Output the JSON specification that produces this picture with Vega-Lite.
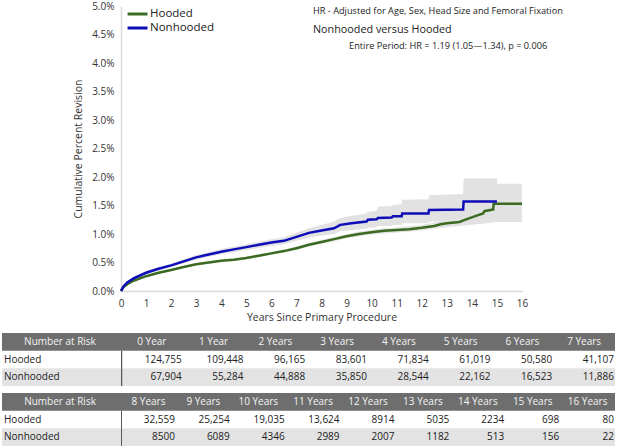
{
  "$schema": "https://vega.github.io/schema/vega-lite/v6.json",
  "padding": {"left": 2, "top": 1, "right": 3, "bottom": 0},
  "config": {"view": {"stroke": null}, "font": "Open Sans", "axis": {"labelOverlap": false, "labelFlush": false}},
  "datasets": {
    "curves": [
      {"g":"Hooded","t":0,"v":0,"lo":0,"hi":0},
      {"g":"Hooded","t":0.1,"v":0.07,"lo":0.06,"hi":0.08},
      {"g":"Hooded","t":0.25,"v":0.12,"lo":0.11,"hi":0.135},
      {"g":"Hooded","t":0.5,"v":0.18,"lo":0.165,"hi":0.195},
      {"g":"Hooded","t":1,"v":0.26,"lo":0.245,"hi":0.275},
      {"g":"Hooded","t":1.5,"v":0.32,"lo":0.3,"hi":0.34},
      {"g":"Hooded","t":2,"v":0.37,"lo":0.35,"hi":0.39},
      {"g":"Hooded","t":2.5,"v":0.42,"lo":0.4,"hi":0.44},
      {"g":"Hooded","t":3,"v":0.47,"lo":0.45,"hi":0.49},
      {"g":"Hooded","t":3.5,"v":0.5,"lo":0.48,"hi":0.52},
      {"g":"Hooded","t":4,"v":0.53,"lo":0.51,"hi":0.555},
      {"g":"Hooded","t":4.5,"v":0.55,"lo":0.525,"hi":0.575},
      {"g":"Hooded","t":5,"v":0.58,"lo":0.555,"hi":0.605},
      {"g":"Hooded","t":5.5,"v":0.62,"lo":0.595,"hi":0.645},
      {"g":"Hooded","t":6,"v":0.66,"lo":0.635,"hi":0.69},
      {"g":"Hooded","t":6.5,"v":0.7,"lo":0.67,"hi":0.73},
      {"g":"Hooded","t":7,"v":0.75,"lo":0.72,"hi":0.78},
      {"g":"Hooded","t":7.5,"v":0.81,"lo":0.78,"hi":0.84},
      {"g":"Hooded","t":8,"v":0.86,"lo":0.83,"hi":0.895},
      {"g":"Hooded","t":8.5,"v":0.91,"lo":0.875,"hi":0.945},
      {"g":"Hooded","t":9,"v":0.96,"lo":0.925,"hi":0.995},
      {"g":"Hooded","t":9.5,"v":1.0,"lo":0.96,"hi":1.04},
      {"g":"Hooded","t":10,"v":1.03,"lo":0.99,"hi":1.07},
      {"g":"Hooded","t":10.5,"v":1.055,"lo":1.01,"hi":1.1},
      {"g":"Hooded","t":11,"v":1.07,"lo":1.025,"hi":1.115},
      {"g":"Hooded","t":11.5,"v":1.085,"lo":1.04,"hi":1.135},
      {"g":"Hooded","t":12,"v":1.11,"lo":1.06,"hi":1.16},
      {"g":"Hooded","t":12.5,"v":1.14,"lo":1.09,"hi":1.2},
      {"g":"Hooded","t":12.75,"v":1.17,"lo":1.11,"hi":1.23},
      {"g":"Hooded","t":13,"v":1.19,"lo":1.12,"hi":1.26},
      {"g":"Hooded","t":13.5,"v":1.21,"lo":1.14,"hi":1.3},
      {"g":"Hooded","t":13.8,"v":1.26,"lo":1.155,"hi":1.38},
      {"g":"Hooded","t":14.25,"v":1.33,"lo":1.175,"hi":1.49},
      {"g":"Hooded","t":14.45,"v":1.36,"lo":1.18,"hi":1.55},
      {"g":"Hooded","t":14.5,"v":1.4,"lo":1.185,"hi":1.62},
      {"g":"Hooded","t":14.85,"v":1.43,"lo":1.2,"hi":1.7},
      {"g":"Hooded","t":14.87,"v":1.53,"lo":1.21,"hi":1.88},
      {"g":"Hooded","t":16,"v":1.53,"lo":1.21,"hi":1.88},
      {"g":"Nonhooded","t":0,"v":0,"lo":0,"hi":0},
      {"g":"Nonhooded","t":0.1,"v":0.08,"lo":0.07,"hi":0.09},
      {"g":"Nonhooded","t":0.25,"v":0.15,"lo":0.135,"hi":0.165},
      {"g":"Nonhooded","t":0.5,"v":0.22,"lo":0.2,"hi":0.24},
      {"g":"Nonhooded","t":1,"v":0.32,"lo":0.295,"hi":0.345},
      {"g":"Nonhooded","t":1.5,"v":0.39,"lo":0.36,"hi":0.42},
      {"g":"Nonhooded","t":2,"v":0.45,"lo":0.42,"hi":0.48},
      {"g":"Nonhooded","t":2.5,"v":0.52,"lo":0.485,"hi":0.555},
      {"g":"Nonhooded","t":3,"v":0.59,"lo":0.55,"hi":0.63},
      {"g":"Nonhooded","t":3.5,"v":0.64,"lo":0.6,"hi":0.68},
      {"g":"Nonhooded","t":4,"v":0.69,"lo":0.645,"hi":0.735},
      {"g":"Nonhooded","t":4.5,"v":0.73,"lo":0.68,"hi":0.78},
      {"g":"Nonhooded","t":5,"v":0.77,"lo":0.72,"hi":0.82},
      {"g":"Nonhooded","t":5.5,"v":0.81,"lo":0.755,"hi":0.865},
      {"g":"Nonhooded","t":6,"v":0.85,"lo":0.79,"hi":0.91},
      {"g":"Nonhooded","t":6.5,"v":0.88,"lo":0.82,"hi":0.945},
      {"g":"Nonhooded","t":7,"v":0.95,"lo":0.88,"hi":1.02},
      {"g":"Nonhooded","t":7.5,"v":1.02,"lo":0.94,"hi":1.1},
      {"g":"Nonhooded","t":8,"v":1.06,"lo":0.97,"hi":1.16},
      {"g":"Nonhooded","t":8.5,"v":1.1,"lo":1.0,"hi":1.22},
      {"g":"Nonhooded","t":8.75,"v":1.16,"lo":1.05,"hi":1.28},
      {"g":"Nonhooded","t":9.2,"v":1.19,"lo":1.07,"hi":1.32},
      {"g":"Nonhooded","t":9.8,"v":1.22,"lo":1.09,"hi":1.36},
      {"g":"Nonhooded","t":9.85,"v":1.25,"lo":1.11,"hi":1.39},
      {"g":"Nonhooded","t":10.2,"v":1.26,"lo":1.12,"hi":1.41},
      {"g":"Nonhooded","t":10.25,"v":1.28,"lo":1.14,"hi":1.48},
      {"g":"Nonhooded","t":10.8,"v":1.29,"lo":1.14,"hi":1.49},
      {"g":"Nonhooded","t":10.85,"v":1.31,"lo":1.16,"hi":1.51},
      {"g":"Nonhooded","t":11.2,"v":1.31,"lo":1.16,"hi":1.52},
      {"g":"Nonhooded","t":11.22,"v":1.36,"lo":1.19,"hi":1.6},
      {"g":"Nonhooded","t":12.27,"v":1.36,"lo":1.19,"hi":1.61},
      {"g":"Nonhooded","t":12.29,"v":1.42,"lo":1.22,"hi":1.68},
      {"g":"Nonhooded","t":13.65,"v":1.43,"lo":1.22,"hi":1.7},
      {"g":"Nonhooded","t":13.67,"v":1.57,"lo":1.25,"hi":1.975},
      {"g":"Nonhooded","t":15,"v":1.57,"lo":1.25,"hi":1.975}
    ],
    "risk": [
      {"year":0,"Hooded":124755,"Nonhooded":67904},
      {"year":1,"Hooded":109448,"Nonhooded":55284},
      {"year":2,"Hooded":96165,"Nonhooded":44888},
      {"year":3,"Hooded":83601,"Nonhooded":35850},
      {"year":4,"Hooded":71834,"Nonhooded":28544},
      {"year":5,"Hooded":61019,"Nonhooded":22162},
      {"year":6,"Hooded":50580,"Nonhooded":16523},
      {"year":7,"Hooded":41107,"Nonhooded":11886},
      {"year":8,"Hooded":32559,"Nonhooded":8500},
      {"year":9,"Hooded":25254,"Nonhooded":6089},
      {"year":10,"Hooded":19035,"Nonhooded":4346},
      {"year":11,"Hooded":13624,"Nonhooded":2989},
      {"year":12,"Hooded":8914,"Nonhooded":2007},
      {"year":13,"Hooded":5035,"Nonhooded":1182},
      {"year":14,"Hooded":2234,"Nonhooded":513},
      {"year":15,"Hooded":698,"Nonhooded":156},
      {"year":16,"Hooded":80,"Nonhooded":22}
    ]
  },
  "bounds": "flush",
  "spacing": 42,
  "vconcat": [
    {
      "width": 401,
      "height": 285,
      "data": {"name": "curves"},
      "encoding": {
        "x": {"field": "t", "type": "quantitative", "scale": {"domain": [0, 16], "nice": false},
          "axis": {"tickCount": 16, "tickMinStep": 1, "format": "d", "ticks": false, "grid": false,
            "labelOverlap": false, "labelFlush": false,
            "domainColor": "#d9d9d9", "domainWidth": 1.5, "labelPadding": 7, "labelFontSize": 10, "labelColor": "#333",
            "title": "Years Since Primary Procedure", "titleFontWeight": "normal", "titleFontSize": 10.5, "titleColor": "#333", "titlePadding": 4}},
        "y": {"field": "v", "type": "quantitative", "scale": {"domain": [0, 5], "nice": false},
          "axis": {"tickCount": 10, "labelExpr": "format(datum.value, '.1f') + '%'", "ticks": false, "grid": false,
            "labelOverlap": false, "labelFlush": false,
            "domainColor": "#d9d9d9", "domainWidth": 1.5, "labelPadding": 7, "labelFontSize": 10, "labelColor": "#333",
            "title": "Cumulative Percent Revision", "titleFontWeight": "normal", "titleFontSize": 10.5, "titleColor": "#333", "titlePadding": 8}}
      },
      "layer": [
        {
          "mark": {"type": "area", "color": "#e2e2e2", "opacity": 1},
          "encoding": {
            "y": {"field": "lo", "type": "quantitative", "title": "Cumulative Percent Revision"},
            "y2": {"field": "hi"},
            "detail": {"field": "g"}
          }
        },
        {
          "mark": {"type": "line", "strokeWidth": 2.5},
          "encoding": {
            "color": {"field": "g", "type": "nominal",
              "scale": {"domain": ["Hooded", "Nonhooded"], "range": ["#3b6b22", "#0c0cb8"]},
              "legend": {"orient": "top-left", "title": null, "symbolType": "M-0.22,0H2.85", "symbolStrokeWidth": 3, "symbolSize": 169,
                "labelFontSize": 11.5, "labelColor": "#222", "offset": 0, "padding": 0, "rowPadding": 0, "labelOffset": 13}}
          }
        },
        {
          "data": {"values": [{"s": "HR - Adjusted for Age, Sex, Head Size and Femoral Fixation"}]},
          "transform": [{"calculate": "7.66", "as": "t"}, {"calculate": "4.91", "as": "v"}],
          "mark": {"type": "text", "align": "left", "baseline": "middle", "fontSize": 9.2, "color": "#222"},
          "encoding": {"text": {"field": "s"}}
        },
        {
          "data": {"values": [{"s": "Nonhooded versus Hooded"}]},
          "transform": [{"calculate": "7.66", "as": "t"}, {"calculate": "4.58", "as": "v"}],
          "mark": {"type": "text", "align": "left", "baseline": "middle", "fontSize": 10.8, "color": "#222"},
          "encoding": {"text": {"field": "s"}}
        },
        {
          "data": {"values": [{"s": "Entire Period: HR = 1.19 (1.05—1.34), p = 0.006"}]},
          "transform": [{"calculate": "9.1", "as": "t"}, {"calculate": "4.3", "as": "v"}],
          "mark": {"type": "text", "align": "left", "baseline": "middle", "fontSize": 9.2, "color": "#222"},
          "encoding": {"text": {"field": "s"}}
        }
      ]
    },
    {
      "bounds": "flush",
      "spacing": 7,
      "vconcat": [
        {
          "width": 494,
          "height": 53,
          "layer": [
            {
              "data": {"values": [{"row": "header"}]},
              "mark": {"type": "rect", "color": "#6e6e6e"},
              "encoding": {
                "x": {"datum": -2.927, "type": "quantitative", "scale": {"domain": [-1, 7], "nice": false, "zero": false}, "axis": null},
                "x2": {"datum": 7},
                "y": {"field": "row", "type": "nominal", "scale": {"domain": ["header", "Hooded", "Nonhooded"], "paddingInner": 0, "paddingOuter": 0}, "axis": null}
              }
            },
            {
              "data": {"values": [{"row": "Nonhooded"}]},
              "mark": {"type": "rect", "color": "#e3e3e3"},
              "encoding": {"x": {"datum": -2.927}, "x2": {"datum": 7}, "y": {"field": "row", "type": "nominal"}}
            },
            {
              "data": {"values": [{"row": "Hooded"}, {"row": "Nonhooded"}]},
              "mark": {"type": "rect", "color": "#555555"},
              "encoding": {"x": {"datum": -1}, "x2": {"datum": -0.98}, "y": {"field": "row", "type": "nominal"}}
            },
            {
              "data": {"name": "risk"},
              "transform": [
                {"filter": "datum.year <= 7"},
                {"calculate": "datum.year + (datum.year <= 1 ? ' Year' : ' Years')", "as": "hdr"}
              ],
              "mark": {"type": "text", "align": "center", "dx": -30.9, "fontSize": 10, "color": "#f4f4f4"},
              "encoding": {"x": {"field": "year", "type": "quantitative"}, "y": {"datum": "header"}, "text": {"field": "hdr"}}
            },
            {
              "data": {"name": "risk"},
              "transform": [
                {"filter": "datum.year <= 7"},
                {"fold": ["Hooded", "Nonhooded"], "as": ["row", "n"]},
                {"calculate": "datum.n >= 10000 ? format(datum.n, ',') : format(datum.n, 'd')", "as": "lab"}
              ],
              "mark": {"type": "text", "align": "right", "dx": -1, "fontSize": 10, "color": "#222"},
              "encoding": {"x": {"field": "year", "type": "quantitative"}, "y": {"field": "row", "type": "nominal"}, "text": {"field": "lab"}}
            },
            {
              "data": {"values": [{"row": "Hooded"}, {"row": "Nonhooded"}]},
              "mark": {"type": "text", "align": "left", "dx": 2, "fontSize": 10, "color": "#222"},
              "encoding": {"x": {"datum": -2.927}, "y": {"field": "row", "type": "nominal"}, "text": {"field": "row"}}
            },
            {
              "data": {"values": [{"s": "Number at Risk"}]},
              "mark": {"type": "text", "align": "center", "fontSize": 10, "color": "#f4f4f4"},
              "encoding": {"x": {"datum": -1.988}, "y": {"datum": "header"}, "text": {"field": "s"}}
            }
          ]
        },
        {
          "width": 494,
          "height": 53,
          "layer": [
            {
              "data": {"values": [{"row": "header"}]},
              "mark": {"type": "rect", "color": "#6e6e6e"},
              "encoding": {
                "x": {"datum": 4.832, "type": "quantitative", "scale": {"domain": [7, 16], "nice": false, "zero": false}, "axis": null},
                "x2": {"datum": 16},
                "y": {"field": "row", "type": "nominal", "scale": {"domain": ["header", "Hooded", "Nonhooded"], "paddingInner": 0, "paddingOuter": 0}, "axis": null}
              }
            },
            {
              "data": {"values": [{"row": "Nonhooded"}]},
              "mark": {"type": "rect", "color": "#e3e3e3"},
              "encoding": {"x": {"datum": 4.832}, "x2": {"datum": 16}, "y": {"field": "row", "type": "nominal"}}
            },
            {
              "data": {"values": [{"row": "Hooded"}, {"row": "Nonhooded"}]},
              "mark": {"type": "rect", "color": "#555555"},
              "encoding": {"x": {"datum": 7}, "x2": {"datum": 7.018}, "y": {"field": "row", "type": "nominal"}}
            },
            {
              "data": {"name": "risk"},
              "transform": [
                {"filter": "datum.year >= 8"},
                {"calculate": "datum.year + ' Years'", "as": "hdr"}
              ],
              "mark": {"type": "text", "align": "center", "dx": -27.4, "fontSize": 10, "color": "#f4f4f4"},
              "encoding": {"x": {"field": "year", "type": "quantitative"}, "y": {"datum": "header"}, "text": {"field": "hdr"}}
            },
            {
              "data": {"name": "risk"},
              "transform": [
                {"filter": "datum.year >= 8"},
                {"fold": ["Hooded", "Nonhooded"], "as": ["row", "n"]},
                {"calculate": "datum.n >= 10000 ? format(datum.n, ',') : format(datum.n, 'd')", "as": "lab"}
              ],
              "mark": {"type": "text", "align": "right", "dx": -1, "fontSize": 10, "color": "#222"},
              "encoding": {"x": {"field": "year", "type": "quantitative"}, "y": {"field": "row", "type": "nominal"}, "text": {"field": "lab"}}
            },
            {
              "data": {"values": [{"row": "Hooded"}, {"row": "Nonhooded"}]},
              "mark": {"type": "text", "align": "left", "dx": 2, "fontSize": 10, "color": "#222"},
              "encoding": {"x": {"datum": 4.832}, "y": {"field": "row", "type": "nominal"}, "text": {"field": "row"}}
            },
            {
              "data": {"values": [{"s": "Number at Risk"}]},
              "mark": {"type": "text", "align": "center", "fontSize": 10, "color": "#f4f4f4"},
              "encoding": {"x": {"datum": 5.889}, "y": {"datum": "header"}, "text": {"field": "s"}}
            }
          ]
        }
      ]
    }
  ]
}
